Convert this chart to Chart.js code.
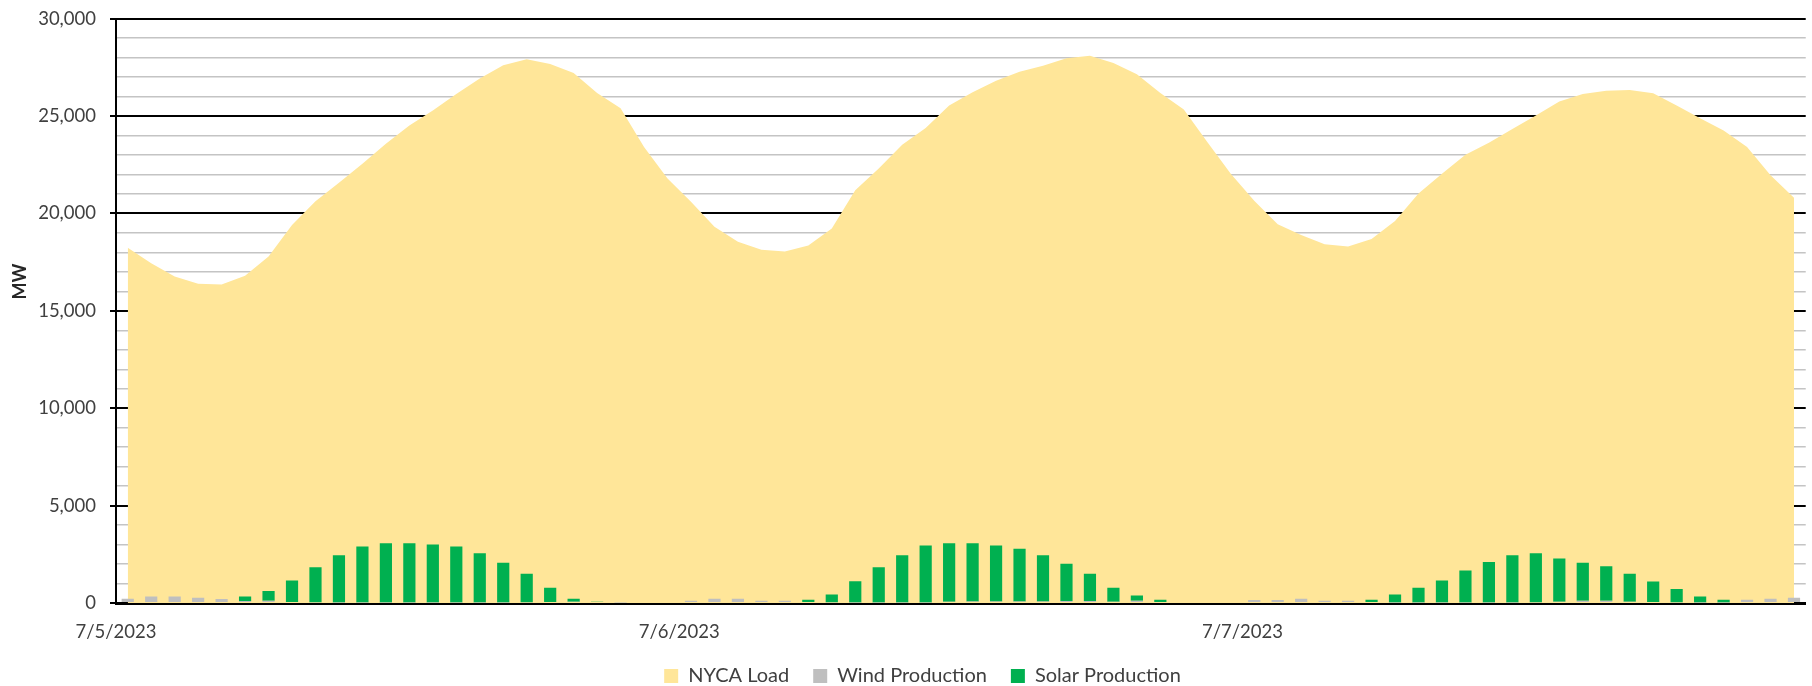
<!DOCTYPE html>
<html>
<head>
<meta charset="utf-8">
<script src="https://cdn.jsdelivr.net/npm/chart.js@4.4.0/dist/chart.umd.min.js"></script>
<style>
  html, body { margin: 0; padding: 0; background: #ffffff; }
  #wrap { width: 1812px; height: 686px; }
</style>
</head>
<body>
<div id="wrap"><canvas id="c" width="1812" height="686"></canvas></div>
<script>
// ---- data ----
const days = ['7/5/2023', '7/6/2023', '7/7/2023'];
const hoursPerDay = 24;

const nycaLoad = [
  18240, 17440, 16760, 16390, 16350, 16800, 17790, 19400, 20630, 21570, 22550, 23580,
  24510, 25280, 26130, 26930, 27610, 27920, 27670, 27210, 26180, 25400, 23410, 21790,
  20600, 19320, 18550, 18130, 18040, 18350, 19230, 21190, 22300, 23530, 24380, 25540,
  26220, 26810, 27270, 27580, 27960, 28090, 27720, 27150, 26180, 25330, 23660, 22040,
  20650, 19450, 18890, 18420, 18300, 18690, 19610, 21020, 22040, 23010, 23630, 24340,
  25030, 25740, 26130, 26300, 26340, 26170, 25540, 24890, 24260, 23410, 21960, 20800
];

const windProduction = [
  220, 340, 340, 270, 200, 100, 120, 50, 40, 30, 30, 30,
  30, 30, 30, 30, 30, 40, 50, 60, 50, 30, 50, 50,
  120, 220, 220, 120, 120, 50, 40, 30, 30, 30, 30, 60,
  80, 80, 80, 80, 100, 100, 70, 120, 50, 50, 50, 50,
  150, 150, 220, 120, 120, 50, 30, 30, 30, 30, 30, 30,
  40, 70, 120, 120, 70, 50, 40, 30, 30, 170, 220, 270
];

const solarProduction = [
  0, 0, 0, 0, 0, 240, 490, 1110, 1800, 2420, 2870, 3040,
  3040, 2970, 2870, 2530, 2030, 1460, 730, 160, 20, 0, 0, 0,
  0, 0, 0, 0, 0, 120, 400, 1090, 1810, 2420, 2920, 3010,
  2990, 2870, 2710, 2370, 1910, 1400, 710, 270, 120, 0, 0, 0,
  0, 0, 0, 0, 0, 120, 410, 750, 1130, 1640, 2080, 2420,
  2520, 2210, 1940, 1770, 1430, 1060, 680, 310, 140, 0, 0, 0
];

const yTickMin = 0, yTickMax = 30000, yMinorStep = 1000, yMajorStep = 5000;
const yAxisTitle = 'MW';

// categories: one per hour
const categories = [];
days.forEach(d => { for (let h = 0; h < hoursPerDay; h++) categories.push(d + ' ' + h + ':00'); });

// y-axis title drawn beside the axis (Excel places it a little above centre)
const yTitlePlugin = {
  id: 'yTitle',
  afterDraw(chart) {
    const ctx = chart.ctx;
    const area = chart.chartArea;
    ctx.save();
    ctx.translate(20, area.top + (area.bottom - area.top) * 0.45);
    ctx.rotate(-Math.PI / 2);
    ctx.font = 'bold 18px Lato, "Liberation Sans", sans-serif';
    ctx.fillStyle = '#262626';
    ctx.textAlign = 'center';
    ctx.textBaseline = 'middle';
    ctx.fillText(yAxisTitle, 0, 0);
    ctx.restore();
  }
};

// ---- chart ----
Chart.defaults.font.family = 'Lato, "Liberation Sans", sans-serif';
Chart.defaults.color = '#404040';

new Chart(document.getElementById('c'), {
  data: {
    labels: categories,
    datasets: [
      {
        type: 'line',
        label: 'NYCA Load',
        data: nycaLoad,
        stack: 'load',
        order: 3,
        fill: 'origin',
        backgroundColor: '#FFE699',
        borderColor: '#FFE699',
        borderWidth: 0,
        pointRadius: 0,
        tension: 0
      },
      {
        type: 'bar',
        label: 'Wind Production',
        data: windProduction,
        stack: 'gen',
        order: 1,
        backgroundColor: '#BFBFBF',
        borderWidth: 0,
        barPercentage: 0.52,
        categoryPercentage: 1.0
      },
      {
        type: 'bar',
        label: 'Solar Production',
        data: solarProduction,
        stack: 'gen',
        order: 2,
        backgroundColor: '#00B050',
        borderWidth: 0,
        barPercentage: 0.52,
        categoryPercentage: 1.0
      }
    ]
  },
  plugins: [yTitlePlugin],
  options: {
    responsive: false,
    animation: false,
    devicePixelRatio: 1,
    layout: { padding: { left: 34, right: 1, top: 14, bottom: -10 } },
    plugins: {
      tooltip: { enabled: false },
      legend: {
        position: 'bottom',
        labels: {
          font: { size: 20 },
          color: '#404040',
          boxWidth: 14,
          boxHeight: 14,
          padding: 24,
          sort: (a, b) => a.datasetIndex - b.datasetIndex
        }
      }
    },
    scales: {
      x: {
        type: 'category',
        offset: true,
        stacked: true,
        z: 1,
        grid: { display: false, drawTicks: false },
        border: { display: true, color: '#000000', width: 3 },
        ticks: {
          autoSkip: false,
          maxRotation: 0,
          minRotation: 0,
          padding: 18,
          labelOffset: -11.77,
          font: { size: 18.5 },
          color: '#404040',
          callback: (val, idx) => (idx % hoursPerDay === 0 ? days[idx / hoursPerDay] : '')
        },
        afterFit: (scale) => { scale.height = 39; }
      },
      y: {
        stacked: true,
        min: yTickMin,
        max: yTickMax,
        ticks: {
          stepSize: yMinorStep,
          autoSkip: false,
          padding: 14,
          font: { size: 18.5, lineHeight: 0.5 },
          color: '#404040',
          callback: (v) => (v % yMajorStep === 0 ? v.toLocaleString('en-US') : '')
        },
        grid: {
          color: (ctx) => (ctx.tick && ctx.tick.value % yMajorStep === 0 ? '#000000' : '#C4C4C4'),
          lineWidth: (ctx) => (ctx.tick && ctx.tick.value % yMajorStep === 0 ? 2 : 1.5),
          tickColor: (ctx) => (ctx.tick && ctx.tick.value % yMajorStep === 0 ? '#000000' : 'rgba(0,0,0,0)'),
          tickLength: 6
        },
        border: { display: true, color: '#000000', width: 2 },
        title: { display: false },
        afterFit: (scale) => { scale.width = 82; }
      }
    }
  }
});
</script>
</body>
</html>
